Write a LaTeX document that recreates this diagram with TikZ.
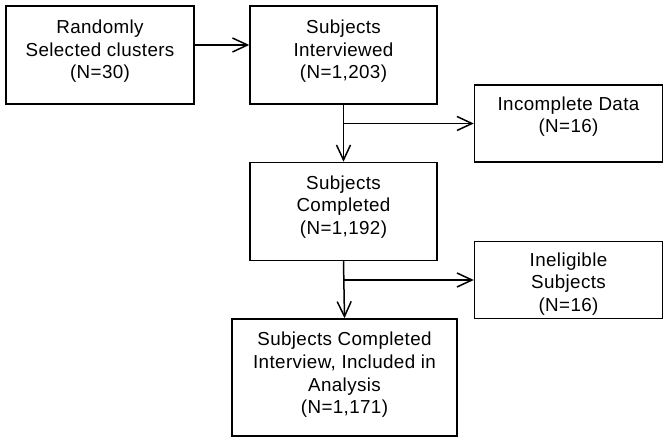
\documentclass[tikz,border=0pt]{standalone}
\usepackage{fontspec}
\setmainfont[LetterSpace=2]{Liberation Sans}
\usetikzlibrary{arrows.meta}
\begin{document}
\begin{tikzpicture}[x=1pt,y=-1pt,
  box/.style={draw, line width=1.5pt, rectangle, inner sep=0pt},
  txt/.style={align=center, inner sep=0pt, font=\fontsize{18.8}{22.6}\selectfont},
  conn/.style={line width=1.5pt, -{Straight Barb[length=15pt,width=14pt,line width=1.5pt]}}]
\useasboundingbox (0,0) rectangle (669,443);
\node[box, minimum width=188pt, minimum height=98pt] (b1) at (100,55) {};
\node[box, minimum width=187pt, minimum height=98pt] (b2) at (343.5,55) {};
\node[box, minimum width=188pt, minimum height=77pt] (b3) at (568.5,123.5) {};
\node[box, minimum width=187pt, minimum height=98pt] (b4) at (343.5,211.5) {};
\node[box, minimum width=188pt, minimum height=77pt] (b5) at (568.5,280) {};
\node[box, minimum width=225pt, minimum height=117pt] (b6) at (344.5,377.5) {};
\node[txt] (t1) at (100,51.5) {Randomly\\Selected clusters\\(N=30)};
\node[txt] (t2) at (343.5,51.5) {Subjects\\Interviewed\\(N=1,203)};
\node[txt] (t3) at (568.5,116.5) {Incomplete Data\\(N=16)};
\node[txt] (t4) at (343.5,207) {Subjects\\Completed\\(N=1,192)};
\node[txt] (t5) at (568.5,284) {Ineligible\\Subjects\\(N=16)};
\node[txt] (t6) at (344.5,375) {Subjects Completed\\Interview, Included in\\Analysis\\(N=1,171)};
\coordinate (a1) at (b1.east |- 0,45);
\coordinate (j1) at (b2.south |- b3.west);
\coordinate (j2) at (b4.south |- b5.west);
\draw[conn] (a1) -- (b2.west |- a1);
\draw[conn] (b2.south) -- (b4.north);
\draw[conn] (j1) -- (b3.west);
\draw[conn] (b4.south) -- (b6.north);
\draw[conn] (j2) -- (b5.west);
\end{tikzpicture}
\end{document}
